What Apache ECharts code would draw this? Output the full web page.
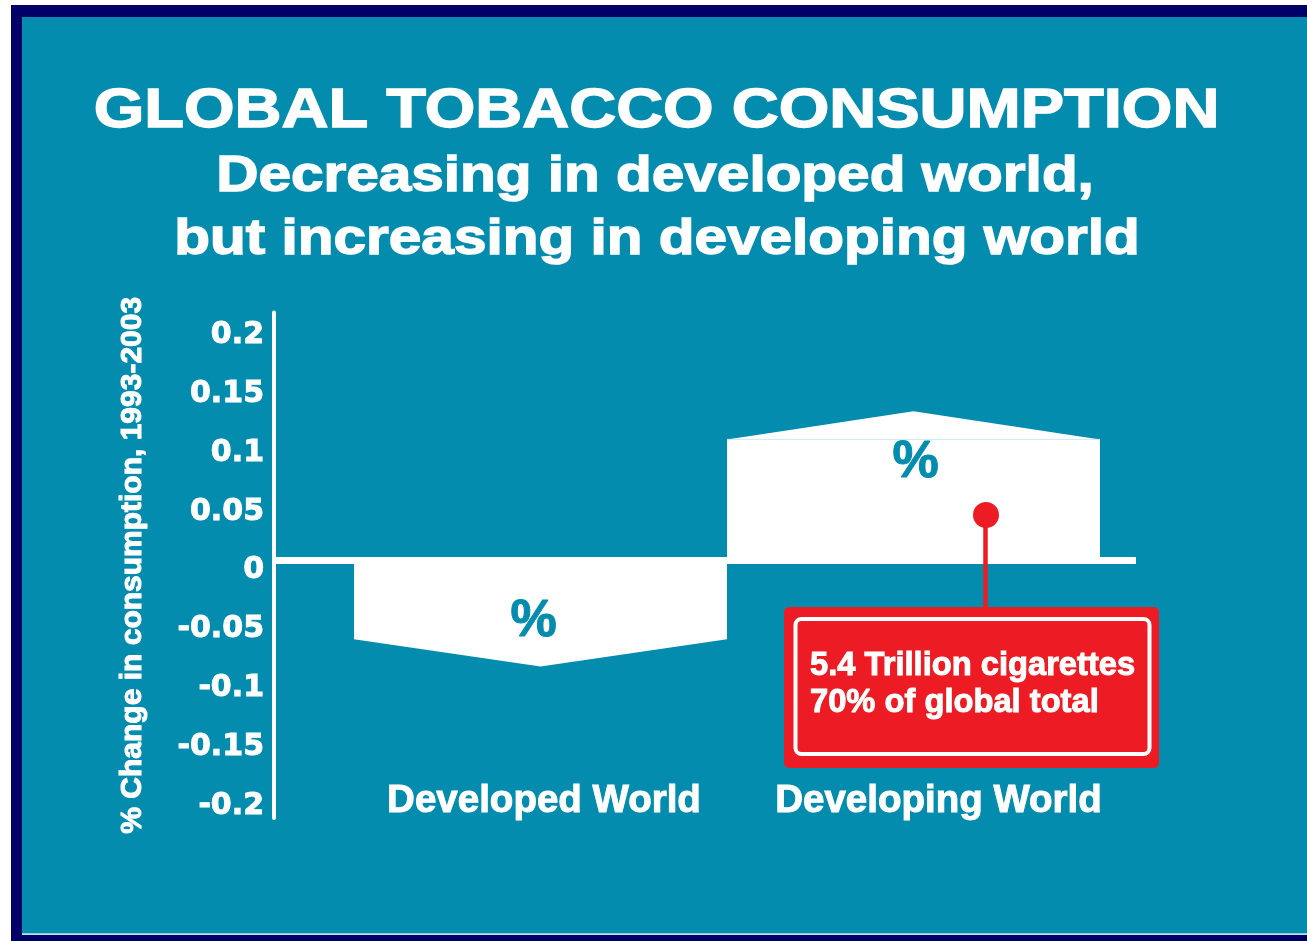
<!DOCTYPE html>
<html>
<head>
<meta charset="utf-8">
<title>Global Tobacco Consumption</title>
<script src="https://cdn.jsdelivr.net/npm/echarts@6/dist/echarts.min.js"></script>
<style>
  html, body { margin: 0; padding: 0; background: #ffffff; }
  #chart { width: 1307px; height: 941px; }
</style>
</head>
<body>
<div id="chart"></div>
<script>
// Regions and their % change in consumption, 1993-2003
const categories = ['Developed World', 'Developing World'];
// value at the bar's outer corners and at its pointed centre
const edgeValues = [-0.067, 0.103];
const peakValues = [-0.090, 0.127];
const barLabels = ['%', '%'];

// y axis
const yTicks = [-0.2, -0.15, -0.1, -0.05, 0, 0.05, 0.1, 0.15, 0.2];
const yMin = -0.219;
const yMax = 0.211;

const calloutLines = ['5.4 Trillion cigarettes', '70% of global total'];

const TEAL = '#048caf';
const NAVY = '#000066';
const RED = '#ed1c24';
const FONT = '"Liberation Sans", Arial, Helvetica, sans-serif';

const chart = echarts.init(document.getElementById('chart'), null, { renderer: 'canvas' });

const gridTop = 312.4;
const gridBottom = 122.9;

// heavy white lettering: fill plus a thin outline of the same colour
const heavy = { textBorderColor: '#ffffff', textBorderWidth: 1 };

function renderHouseBar(params, api) {
  const cat = api.value(0);
  const edge = api.value(1);
  const peak = api.value(2);
  const base = api.coord([cat, 0]);
  const w = api.size([1, 0])[0];
  const cx = base[0];
  const x0 = cx - w / 2;
  const x1 = cx + w / 2;
  const y0 = base[1];
  const yEdge = api.coord([cat, edge])[1];
  const yPeak = api.coord([cat, peak])[1];
  const up = edge > 0;
  const children = [{
    type: 'polygon',
    shape: { points: [[x0, y0], [x1, y0], [x1, yEdge], [cx, yPeak], [x0, yEdge]] },
    style: { fill: '#ffffff' }
  }];
  if (up) {
    // faint seam where the roof meets the body
    children.push({
      type: 'line',
      shape: { x1: x0, y1: yEdge, x2: x1, y2: yEdge },
      style: { stroke: '#cde9f1', lineWidth: 1 }
    });
  }
  children.push({
    type: 'text',
    x: cx + (up ? 2 : -7),
    y: up ? yEdge + 23 : yEdge - 18,
    style: {
      text: barLabels[params.dataIndex],
      fill: TEAL,
      stroke: TEAL,
      lineWidth: 1,
      font: 'bold 52px ' + FONT,
      align: 'center',
      verticalAlign: 'middle'
    }
  });
  return { type: 'group', children: children };
}

function headingText(text, x, y, size, sx) {
  return {
    type: 'text', z: 50, x: x, y: y, scaleX: sx,
    style: {
      text: text, fill: '#ffffff', stroke: '#ffffff', lineWidth: 1.4,
      font: 'bold ' + size + 'px ' + FONT, align: 'center', verticalAlign: 'middle'
    }
  };
}

const option = {
  backgroundColor: '#ffffff',
  animation: false,
  grid: [
    { left: 274, right: 171, top: gridTop, bottom: gridBottom, containLabel: false },
    { left: 354, right: 207, top: gridTop, bottom: gridBottom, containLabel: false }
  ],
  xAxis: [
    {
      type: 'value', gridIndex: 0, min: 0, max: 1,
      axisLine: { show: true, onZero: true, lineStyle: { color: '#ffffff', width: 7, cap: 'butt' } },
      axisTick: { show: false }, axisLabel: { show: false }, splitLine: { show: false }
    },
    {
      type: 'category', gridIndex: 1, data: categories,
      axisLine: { show: false, onZero: false }, axisTick: { show: false }, splitLine: { show: false },
      axisLabel: {
        color: '#ffffff',
        fontFamily: FONT,
        fontWeight: 'bold',
        fontSize: 38,
        verticalAlign: 'middle',
        margin: -17,
        interval: 0,
        formatter: function (v, i) { return i === 1 ? '{b|' + v + '}' : '{a|' + v + '}'; },
        rich: {
          a: Object.assign({ color: '#ffffff', fontFamily: FONT, fontWeight: 'bold', fontSize: 38.5, padding: [0, 0, 0, 7] }, heavy),
          b: Object.assign({ color: '#ffffff', fontFamily: FONT, fontWeight: 'bold', fontSize: 38.5, padding: [0, 0, 0, 50] }, heavy)
        }
      }
    }
  ],
  yAxis: [
    {
      type: 'value', gridIndex: 0, min: yMin, max: yMax,
      axisLine: { show: true, onZero: false, lineStyle: { color: '#ffffff', width: 4 } },
      axisTick: { show: false },
      splitLine: { show: false },
      axisLabel: Object.assign({
        customValues: yTicks,
        color: '#ffffff',
        fontFamily: '"DejaVu Sans", sans-serif',
        fontWeight: 'bold',
        fontSize: 30,
        margin: 10,
        verticalAlign: 'top',
        lineHeight: 20,
        formatter: function (v) { return String(v); }
      }, heavy),
      name: '% Change in consumption, 1993-2003',
      nameLocation: 'middle',
      nameRotate: 90,
      nameGap: 126,
      nameTextStyle: Object.assign({ color: '#ffffff', fontFamily: FONT, fontWeight: 'bold', fontSize: 30 }, heavy)
    },
    { type: 'value', gridIndex: 1, min: yMin, max: yMax, show: false }
  ],
  series: [{
    type: 'custom',
    xAxisIndex: 1,
    yAxisIndex: 1,
    silent: true,
    z: 3,
    data: categories.map(function (c, i) { return [i, edgeValues[i], peakValues[i]]; }),
    encode: { x: 0, y: [1, 2] },
    renderItem: renderHouseBar
  }],
  graphic: [
    // frame and panel
    { type: 'rect', z: -10, silent: true, shape: { x: 11, y: 5, width: 1310, height: 950 }, style: { fill: NAVY } },
    { type: 'rect', z: -9, silent: true, shape: { x: 22, y: 17, width: 1300, height: 917 }, style: { fill: TEAL } },
    { type: 'rect', z: -8, silent: true, shape: { x: 22, y: 933.3, width: 1300, height: 1.7 }, style: { fill: '#bfe0ea' } },
    // headings
    headingText('GLOBAL TOBACCO CONSUMPTION', 656.5, 112, 56, 1.161),
    headingText('Decreasing in developed world,', 655, 177, 50, 1.17),
    headingText('but increasing in developing world', 657, 240, 50, 1.17),
    // callout
    { type: 'line', z: 60, shape: { x1: 985.5, y1: 515, x2: 985.5, y2: 610 }, style: { stroke: RED, lineWidth: 4.5 } },
    { type: 'circle', z: 61, shape: { cx: 986, cy: 515, r: 13 }, style: { fill: RED } },
    { type: 'rect', z: 60, shape: { x: 784, y: 607, width: 375, height: 161, r: 5 }, style: { fill: RED } },
    { type: 'rect', z: 61, shape: { x: 795.5, y: 619, width: 354, height: 135, r: 6 }, style: { fill: 'none', stroke: '#ffffff', lineWidth: 4 } },
    {
      type: 'text', z: 62, x: 810, y: 666,
      style: { text: calloutLines[0], fill: '#ffffff', stroke: '#ffffff', lineWidth: 1, font: 'bold 32.7px ' + FONT, align: 'left', verticalAlign: 'middle' }
    },
    {
      type: 'text', z: 62, x: 810, y: 703,
      style: { text: calloutLines[1], fill: '#ffffff', stroke: '#ffffff', lineWidth: 1, font: 'bold 32.7px ' + FONT, align: 'left', verticalAlign: 'middle' }
    }
  ]
};

chart.setOption(option);
</script>
</body>
</html>
